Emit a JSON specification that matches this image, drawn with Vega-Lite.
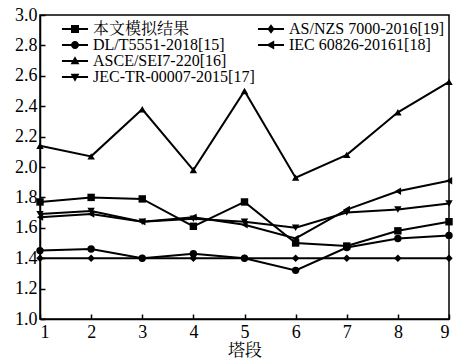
{
  "$schema": "https://vega.github.io/schema/vega-lite/v6.json",
  "width": 409,
  "height": 304,
  "autosize": {"type": "none"},
  "padding": {"left": 40, "top": 15, "right": 4, "bottom": 40},
  "background": "white",
  "config": {
    "font": "Liberation Serif, Noto Serif CJK SC, Noto Sans CJK SC",
    "view": {"stroke": "black", "strokeWidth": 1.5},
    "axis": {
      "domainColor": "black", "domainWidth": 1.5, "tickColor": "black", "tickWidth": 1.5,
      "labelColor": "black", "titleColor": "black", "grid": false,
      "labelFont": "Liberation Serif", "labelFontSize": 18,
      "titleFont": "Liberation Serif, Noto Serif CJK SC, Noto Sans CJK SC", "titleFontSize": 17, "titleFontWeight": "normal"
    }
  },
  "data": {"values": [
    {"series": "本文模拟结果", "x": 1, "y": 1.77}, {"series": "本文模拟结果", "x": 2, "y": 1.80}, {"series": "本文模拟结果", "x": 3, "y": 1.79},
    {"series": "本文模拟结果", "x": 4, "y": 1.61}, {"series": "本文模拟结果", "x": 5, "y": 1.77}, {"series": "本文模拟结果", "x": 6, "y": 1.50},
    {"series": "本文模拟结果", "x": 7, "y": 1.48}, {"series": "本文模拟结果", "x": 8, "y": 1.58}, {"series": "本文模拟结果", "x": 9, "y": 1.64},
    {"series": "DL/T5551-2018[15]", "x": 1, "y": 1.45}, {"series": "DL/T5551-2018[15]", "x": 2, "y": 1.46}, {"series": "DL/T5551-2018[15]", "x": 3, "y": 1.40},
    {"series": "DL/T5551-2018[15]", "x": 4, "y": 1.43}, {"series": "DL/T5551-2018[15]", "x": 5, "y": 1.40}, {"series": "DL/T5551-2018[15]", "x": 6, "y": 1.32},
    {"series": "DL/T5551-2018[15]", "x": 7, "y": 1.47}, {"series": "DL/T5551-2018[15]", "x": 8, "y": 1.53}, {"series": "DL/T5551-2018[15]", "x": 9, "y": 1.55},
    {"series": "ASCE/SEI7-220[16]", "x": 1, "y": 2.14}, {"series": "ASCE/SEI7-220[16]", "x": 2, "y": 2.07}, {"series": "ASCE/SEI7-220[16]", "x": 3, "y": 2.38},
    {"series": "ASCE/SEI7-220[16]", "x": 4, "y": 1.98}, {"series": "ASCE/SEI7-220[16]", "x": 5, "y": 2.50}, {"series": "ASCE/SEI7-220[16]", "x": 6, "y": 1.93},
    {"series": "ASCE/SEI7-220[16]", "x": 7, "y": 2.08}, {"series": "ASCE/SEI7-220[16]", "x": 8, "y": 2.36}, {"series": "ASCE/SEI7-220[16]", "x": 9, "y": 2.56},
    {"series": "JEC-TR-00007-2015[17]", "x": 1, "y": 1.69}, {"series": "JEC-TR-00007-2015[17]", "x": 2, "y": 1.71}, {"series": "JEC-TR-00007-2015[17]", "x": 3, "y": 1.64},
    {"series": "JEC-TR-00007-2015[17]", "x": 4, "y": 1.66}, {"series": "JEC-TR-00007-2015[17]", "x": 5, "y": 1.64}, {"series": "JEC-TR-00007-2015[17]", "x": 6, "y": 1.60},
    {"series": "JEC-TR-00007-2015[17]", "x": 7, "y": 1.70}, {"series": "JEC-TR-00007-2015[17]", "x": 8, "y": 1.72}, {"series": "JEC-TR-00007-2015[17]", "x": 9, "y": 1.76},
    {"series": "AS/NZS 7000-2016[19]", "x": 1, "y": 1.40}, {"series": "AS/NZS 7000-2016[19]", "x": 2, "y": 1.40}, {"series": "AS/NZS 7000-2016[19]", "x": 3, "y": 1.40},
    {"series": "AS/NZS 7000-2016[19]", "x": 4, "y": 1.40}, {"series": "AS/NZS 7000-2016[19]", "x": 5, "y": 1.40}, {"series": "AS/NZS 7000-2016[19]", "x": 6, "y": 1.40},
    {"series": "AS/NZS 7000-2016[19]", "x": 7, "y": 1.40}, {"series": "AS/NZS 7000-2016[19]", "x": 8, "y": 1.40}, {"series": "AS/NZS 7000-2016[19]", "x": 9, "y": 1.40},
    {"series": "IEC 60826-20161[18]", "x": 1, "y": 1.67}, {"series": "IEC 60826-20161[18]", "x": 2, "y": 1.69}, {"series": "IEC 60826-20161[18]", "x": 3, "y": 1.64},
    {"series": "IEC 60826-20161[18]", "x": 4, "y": 1.67}, {"series": "IEC 60826-20161[18]", "x": 5, "y": 1.62}, {"series": "IEC 60826-20161[18]", "x": 6, "y": 1.53},
    {"series": "IEC 60826-20161[18]", "x": 7, "y": 1.72}, {"series": "IEC 60826-20161[18]", "x": 8, "y": 1.84}, {"series": "IEC 60826-20161[18]", "x": 9, "y": 1.91}
  ]},
  "encoding": {
    "x": {"field": "x", "type": "quantitative", "scale": {"domain": [1, 9], "nice": false},
      "axis": {"title": "塔段", "values": [1,2,3,4,5,6,7,8,9], "format": "d", "tickSize": -5, "labelPadding": 9, "titlePadding": 1}},
    "y": {"field": "y", "type": "quantitative", "scale": {"domain": [1, 3], "nice": false},
      "axis": {"title": null, "values": [1.0,1.2,1.4,1.6,1.8,2.0,2.2,2.4,2.6,2.8,3.0], "format": ".1f", "tickSize": -5, "labelPadding": 8}}
  },
  "layer": [
    {"mark": {"type": "line", "color": "black", "strokeWidth": 2}, "encoding": {"detail": {"field": "series"}}},
    {"mark": {"type": "point", "filled": true, "color": "black", "opacity": 1, "size": 55},
      "encoding": {"shape": {"field": "series", "type": "nominal",
        "scale": {"domain": ["本文模拟结果","AS/NZS 7000-2016[19]","DL/T5551-2018[15]","IEC 60826-20161[18]","ASCE/SEI7-220[16]","JEC-TR-00007-2015[17]"],
                  "range": ["square","diamond","circle","triangle-left","triangle-up","triangle-down"]},
        "legend": null}}},
    {"transform": [{"filter": "datum.x > 99"}],
     "mark": {"type": "point", "filled": true, "color": "black", "opacity": 1},
      "encoding": {"shape": {"field": "series", "type": "nominal",
        "scale": {"domain": ["本文模拟结果","AS/NZS 7000-2016[19]","DL/T5551-2018[15]","IEC 60826-20161[18]","ASCE/SEI7-220[16]"," ","JEC-TR-00007-2015[17]"],
                  "range": [
                    "M-1.63,-0.12H1.63V0.12H-1.63ZM-0.5,-0.5H0.5V0.5H-0.5Z",
                    "M-1.63,-0.12H1.63V0.12H-1.63ZM0,-0.6L0.45,0L0,0.6L-0.45,0Z",
                    "M-1.63,-0.12H1.63V0.12H-1.63ZM-0.5,0A0.5,0.5,0,1,1,0.5,0A0.5,0.5,0,1,1,-0.5,0Z",
                    "M-1.63,-0.12H1.63V0.12H-1.63ZM-0.6,0L0.4,-0.55V0.55Z",
                    "M-1.63,-0.12H1.63V0.12H-1.63ZM0,-0.6L0.55,0.4H-0.55Z",
                    "M0,0",
                    "M-1.63,-0.12H1.63V0.12H-1.63ZM0,0.6L-0.55,-0.4H0.55Z"
                  ]},
        "legend": {"title": null, "orient": "none", "legendX": 27, "legendY": 6, "direction": "horizontal", "columns": 2, "padding": 0,
          "columnPadding": 2, "rowPadding": -1.5, "symbolSize": 256, "labelOffset": 10,
          "symbolFillColor": "black", "symbolStrokeColor": "black", "symbolStrokeWidth": 0, "symbolOpacity": 1,
          "labelFont": "Liberation Serif, Noto Serif CJK SC, Noto Sans CJK SC", "labelFontSize": 16, "labelColor": "black", "labelLimit": 300}}}}
  ],
  "resolve": {"scale": {"shape": "independent"}}
}
